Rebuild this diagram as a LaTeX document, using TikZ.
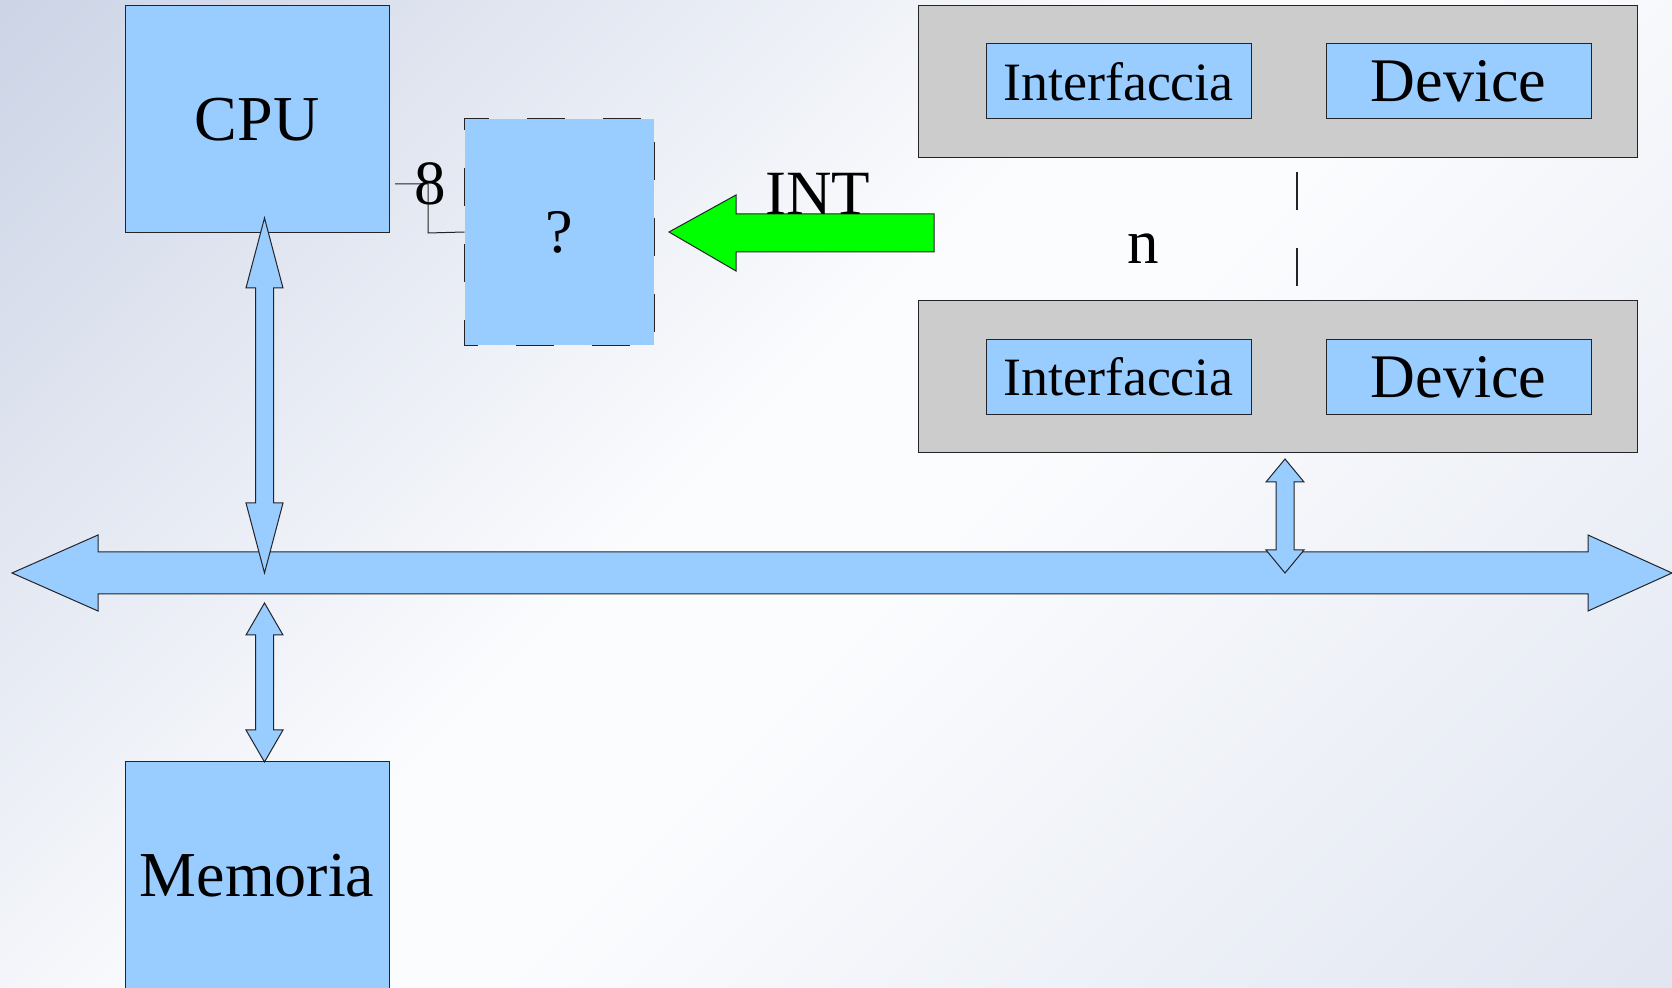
\documentclass[tikz,border=0pt]{standalone}
\usepackage{fontspec}
\setmainfont{Liberation Serif}
\definecolor{boxblue}{RGB}{153,204,255}
\definecolor{boxgray}{RGB}{204,204,204}
\definecolor{intgreen}{RGB}{0,255,0}
\definecolor{edgecol}{RGB}{35,35,40}
\definecolor{bgA}{RGB}{203,211,229}
\definecolor{bgB}{RGB}{224,229,240}
\definecolor{bgW}{RGB}{251,252,254}
\pgfdeclareverticalshading{bgshade}{100bp}{color(0bp)=(bgB); color(14bp)=(bgB); color(46bp)=(bgW); color(54bp)=(bgW); color(86bp)=(bgA); color(100bp)=(bgA)}
\newcommand\vdarr[7]{%
  \filldraw[blockarrow] (#1,#2) -- ({#1+#6},#3) -- ({#1+#7},#3) -- ({#1+#7},#4) -- ({#1+#6},#4) -- (#1,#5)
   -- ({#1-#6},#4) -- ({#1-#7},#4) -- ({#1-#7},#3) -- ({#1-#6},#3) -- cycle;}
\begin{document}
\begin{tikzpicture}[x=0.5pt,y=-0.5pt,
  blk/.style={draw=edgecol, line width=0.5pt, fill=boxblue, inner sep=0pt,
    font=\fontsize{32}{36}\selectfont},
  grp/.style={draw=edgecol, line width=0.5pt, fill=boxgray, inner sep=0pt,
    minimum width=359.5pt, minimum height=76pt},
  ifbox/.style={blk, minimum width=132.5pt, minimum height=37.5pt,
    font=\fontsize{27}{30}\selectfont},
  devbox/.style={blk, minimum width=132.5pt, minimum height=37.5pt,
    font=\fontsize{31}{34}\selectfont},
  blockarrow/.style={draw=edgecol, line width=0.5pt, fill=boxblue, line join=miter},
  wire/.style={draw=edgecol, line width=0.5pt},
  lbl/.style={inner sep=0pt, font=\fontsize{31.5}{34}\selectfont},
  dashline/.style={draw=edgecol, line width=0.6pt, dash pattern=on 19pt off 19pt}
]
\useasboundingbox (0,0) rectangle (1672,988);
\clip (0,0) rectangle (1672,988);
% background
\fill[bgA] (0,0) rectangle (1672,988);
\shade[shading=bgshade, shading angle=45] (0,0) rectangle (1672,988);

% device groups
\node[grp] (g1) at (1277.5,82) {};
\node[ifbox] (if1) at (1118.5,81.5) {Interfaccia};
\node[devbox] (dev1) at (1458.5,81.5) {Device};
\node[grp] (g2) at (1277.5,376.5) {};
\node[ifbox] (if2) at (1118.5,377) {Interfaccia};
\node[devbox] (dev2) at (1458.5,377) {Device};
\coordinate (dtop) at (1297,172);
\coordinate (dbot) at (1297,288);
\draw[dashline] (dtop) -- (dbot);
\node[lbl] (n) at (1143,248.5) {n};

% CPU, ?, Memoria
\node[blk, minimum width=132pt, minimum height=113.5pt] (cpu) at (257,119.5) {CPU};
\node[blk, draw=none, minimum width=94.5pt, minimum height=113pt,
  font=\fontsize{31}{34}\selectfont] (q) at (559.5,232) {?};
\draw[edgecol, line width=0.6pt, dash pattern=on 19pt off 19pt, dash phase=13pt]
  (q.north west) -- (q.south west) -- (q.south east) -- (q.north east) -- (q.north west);
\node[blk, minimum width=132pt, minimum height=114pt] (mem) at (257,876) {Memoria};

% wire CPU -> ?
\coordinate (w0) at (395,184);
\coordinate (w1) at (428,233);
\draw[wire] (w0) -| (w1) -- (q.west);
\node[lbl] (eight) at (430,184) {8};

% INT arrow
\filldraw[draw=edgecol, line width=0.5pt, fill=intgreen]
  (669,232) -- (736,195) -- (736,214) -- (934,214) -- (934,252) -- (736,252) -- (736,271) -- cycle;
\node[lbl] (int) at (818,194) {INT};

% bus
\filldraw[blockarrow] (12,573) -- (98,535) -- (98,552) -- (1588,552) -- (1588,535) -- (1672,573)
  -- (1588,611) -- (1588,594) -- (98,594) -- (98,611) -- cycle;

% vertical double arrows
\vdarr{264.5}{218}{288}{503}{573}{18.5}{9}
\vdarr{264.5}{603}{635}{730}{762}{18.5}{9}
\vdarr{1285}{459}{482}{550}{573}{19}{9}
\end{tikzpicture}
\end{document}
